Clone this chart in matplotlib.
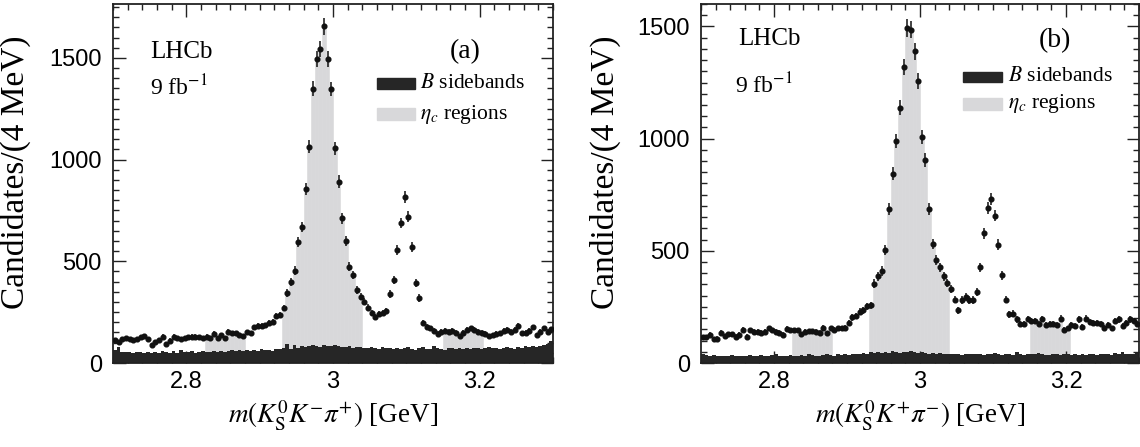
import numpy as np
import matplotlib
matplotlib.use("Agg")
import matplotlib.pyplot as plt
from matplotlib.patches import Rectangle
from matplotlib.ticker import MultipleLocator, FixedLocator

# ---------------- data ----------------
x_lo, x_hi, bin_w = 2.70, 3.30, 0.005

data_a = [113, 105, 116, 121, 116, 113, 116, 126, 133, 116,
          89, 105, 113, 130, 94, 110, 130, 121, 116, 121,
          126, 130, 130, 126, 121, 130, 121, 143, 121, 138,
          121, 154, 146, 146, 138, 133, 151, 146, 176, 182,
          182, 185, 198, 203, 231, 236, 270, 344, 400, 454,
          597, 668, 855, 1064, 1348, 1495, 1543, 1655, 1495, 1347,
          1055, 892, 712, 602, 474, 433, 359, 326, 302, 272,
          246, 226, 241, 246, 256, 339, 408, 556, 688, 817,
          720, 572, 393, 319, 197, 177, 171, 159, 143, 154,
          159, 154, 159, 149, 133, 149, 162, 171, 162, 154,
          149, 143, 133, 138, 143, 146, 159, 162, 154, 162,
          182, 146, 149, 159, 176, 138, 154, 171, 154, 166]

side_a = [62, 80, 55, 54, 52, 50, 52, 55, 50, 52,
          50, 55, 50, 58, 52, 50, 60, 50, 62, 55,
          52, 58, 50, 55, 60, 52, 55, 58, 52, 60,
          55, 58, 62, 60, 65, 58, 62, 60, 65, 58,
          68, 62, 66, 60, 70, 68, 72, 95, 70, 90,
          72, 85, 78, 82, 88, 84, 80, 90, 86, 82,
          88, 85, 80, 78, 82, 75, 80, 78, 72, 76,
          80, 74, 70, 78, 72, 75, 70, 74, 68, 72,
          78, 70, 66, 72, 80, 70, 68, 82, 72, 70,
          66, 72, 75, 70, 74, 68, 72, 70, 76, 72,
          70, 74, 78, 72, 75, 70, 72, 78, 75, 70,
          80, 76, 82, 78, 85, 80, 84, 88, 95, 110]

data_b = [114, 114, 126, 105, 108, 135, 120, 129, 129, 117,
          126, 149, 117, 146, 138, 138, 135, 138, 154, 146,
          138, 135, 126, 151, 146, 146, 146, 129, 138, 141,
          141, 138, 135, 157, 132, 154, 149, 154, 154, 158,
          180, 203, 209, 228, 235, 253, 257, 354, 387, 410,
          502, 687, 843, 990, 1138, 1318, 1493, 1485, 1389, 1256,
          1007, 905, 687, 531, 460, 427, 387, 357, 331, 283,
          235, 280, 295, 280, 280, 317, 427, 578, 691, 731,
          657, 528, 390, 283, 217, 220, 194, 173, 173, 195,
          186, 188, 176, 195, 170, 176, 173, 170, 198, 149,
          154, 170, 166, 194, 161, 198, 183, 179, 179, 176,
          158, 170, 154, 188, 194, 166, 179, 194, 188, 173]

side_b = [40, 35, 32, 35, 30, 33, 30, 32, 35, 30,
          33, 30, 32, 35, 30, 33, 36, 32, 30, 35,
          38, 32, 30, 33, 35, 30, 32, 35, 33, 38,
          35, 30, 33, 36, 38, 35, 32, 38, 35, 40,
          36, 38, 40, 42, 45, 40, 48, 45, 50, 46,
          48, 44, 52, 48, 46, 50, 48, 52, 50, 46,
          48, 44, 42, 45, 40, 43, 40, 38, 42, 40,
          38, 36, 40, 38, 42, 40, 38, 36, 40, 42,
          45, 38, 36, 40, 38, 35, 48, 38, 36, 42,
          38, 40, 44, 38, 36, 35, 40, 38, 36, 42,
          40, 35, 38, 36, 40, 35, 38, 40, 36, 38,
          42, 40, 36, 45, 42, 48, 40, 38, 42, 48]

etac_regions = [(2.825, 2.880), (2.930, 3.040), (3.150, 3.205)]

x_ticks = [2.8, 3.0, 3.2]
x_ticklabels = ["2.8", "3", "3.2"]
y_ticks = [0, 500, 1000, 1500]
y_ticklabels = ["0", "500", "1000", "1500"]

ylabel = "Candidates/(4 MeV)"
xlabel_a = r"$m(K^{0}_{\mathrm{S}}K^{-}\pi^{+})$ [GeV]"
xlabel_b = r"$m(K^{0}_{\mathrm{S}}K^{+}\pi^{-})$ [GeV]"
panel_tags = ["(a)", "(b)"]
leg_labels = [r"$B$ sidebands", r"$\eta_c$ regions"]
lumi_text = r"9 fb$^{-1}$"

# ---------------- style ----------------
plt.rcParams["mathtext.fontset"] = "stix"
SERIF = ["Liberation Serif", "DejaVu Serif"]
SANS = ["Liberation Sans", "DejaVu Sans"]
GRAY = "#d8d8da"
DARK = "#262626"

W, H = 1140, 447
fig = plt.figure(figsize=(W / 100, H / 100), dpi=100)

panels = [
    dict(data=data_a, side=side_a, xlabel=xlabel_a, tag=panel_tags[0], ymax=1765,
         rect=(113, 4, 553, 363),
         lhcb=(0.084, 0.866), lumi=(0.084, 0.766), tagpos=(0.80, 0.866),
         box_x=(0.60, 0.686), box1=(0.763, 0.794), box2=(0.677, 0.710),
         txt_x=0.698, ylab=(-0.186, 0.532)),
    dict(data=data_b, side=side_b, xlabel=xlabel_b, tag=panel_tags[1], ymax=1600,
         rect=(701, 4, 1139, 363),
         lhcb=(0.0845, 0.903), lumi=(0.078, 0.772), tagpos=(0.808, 0.897),
         box_x=(0.598, 0.687), box1=(0.783, 0.811), box2=(0.705, 0.738),
         txt_x=0.701, ylab=(-0.182, 0.532)),
]

edges = np.arange(len(data_a) + 1) * bin_w + x_lo
centers = 0.5 * (edges[:-1] + edges[1:])

for p in panels:
    x0, y0, x1, y1 = p["rect"]
    ax = fig.add_axes([x0 / W, (H - y1) / H, (x1 - x0) / W, (y1 - y0) / H])
    d = np.asarray(p["data"], float)
    s = np.asarray(p["side"], float)

    # eta_c regions (grey histogram of the data in the selected windows)
    mask = np.zeros(len(d), bool)
    for lo, hi in etac_regions:
        mask |= (centers > lo) & (centers < hi)
    ax.bar(centers[mask], d[mask], width=bin_w, color=GRAY, edgecolor=GRAY,
           linewidth=0.4, zorder=1)
    # B sidebands
    ax.stairs(s, edges, fill=True, color=DARK, zorder=2)
    # data points
    ax.errorbar(centers, d, yerr=np.sqrt(d), fmt="o", ms=3.4, color="#111111",
                elinewidth=1.1, capsize=0, zorder=3)

    ax.set_xlim(x_lo, x_hi)
    ax.set_ylim(0, p["ymax"])
    ax.xaxis.set_major_locator(FixedLocator(x_ticks))
    ax.set_xticklabels(x_ticklabels)
    ax.xaxis.set_minor_locator(MultipleLocator(0.02))
    ax.yaxis.set_major_locator(FixedLocator(y_ticks))
    ax.set_yticklabels(y_ticklabels)
    ax.yaxis.set_minor_locator(MultipleLocator(50))
    ax.tick_params(which="both", direction="in", top=True, right=True, width=1.0,
                   labelsize=17, color="#222")
    ax.tick_params(which="major", length=9)
    ax.tick_params(which="minor", length=4.5)
    ax.tick_params(axis="x", pad=6)
    ax.tick_params(axis="y", pad=8)
    for lab in ax.get_xticklabels() + ax.get_yticklabels():
        lab.set_family(SANS)
    for sp in ax.spines.values():
        sp.set_linewidth(1.3)
        sp.set_color("#222")

    ax.set_ylabel(ylabel, fontsize=24, family=SERIF)
    ax.yaxis.set_label_coords(*p["ylab"])
    ax.set_xlabel(p["xlabel"], fontsize=19.5, family=SERIF)
    ax.xaxis.set_label_coords(0.5, -0.1)

    ax.text(*p["lhcb"], "LHCb", transform=ax.transAxes, fontsize=18, family=SERIF,
            ha="left", va="center")
    ax.text(*p["lumi"], lumi_text, transform=ax.transAxes, fontsize=17, family=SERIF,
            ha="left", va="center")
    ax.text(*p["tagpos"], p["tag"], transform=ax.transAxes, fontsize=20, family=SERIF,
            ha="center", va="center")

    bx0, bx1 = p["box_x"]
    for (by0, by1), col, lab in [(p["box1"], DARK, leg_labels[0]),
                                 (p["box2"], GRAY, leg_labels[1])]:
        ax.add_patch(Rectangle((bx0, by0), bx1 - bx0, by1 - by0, transform=ax.transAxes,
                               color=col, zorder=4, clip_on=False))
        ax.text(p["txt_x"], 0.5 * (by0 + by1), lab, transform=ax.transAxes,
                fontsize=15.5, family=SERIF, ha="left", va="center", zorder=5)

fig.savefig("out.png", dpi=100)
